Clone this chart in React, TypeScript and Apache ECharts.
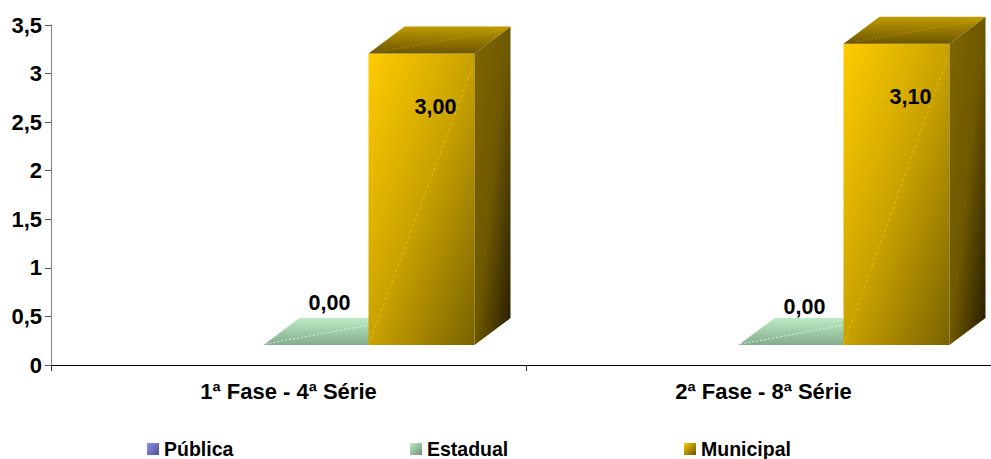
import React, { useEffect, useRef } from "react";
import * as echarts from "echarts";

const categories = ["1ª Fase - 4ª Série", "2ª Fase - 8ª Série"];
const publica: (number | null)[] = [null, null];
const estadual = [0, 0];
const municipal = [3.0, 3.1];
const yTicks = [0, 0.5, 1, 1.5, 2, 2.5, 3, 3.5];

const FONT = '"Liberation Sans", Arial, sans-serif';
const BAR_W = 106;
const DEPTH_X = 36;
const DEPTH_Y = 27;
const FLOOR = 20;

const lg = (x: number, y: number, x2: number, y2: number, stops: string[]) =>
  new echarts.graphic.LinearGradient(
    x,
    y,
    x2,
    y2,
    stops.map((color, i) => ({ offset: i / (stops.length - 1), color }))
  );

type Palette = { front: string[]; top: string[]; side: string[]; dash: string; topDash: string };

const GOLD: Palette = {
  front: ["#FFCC00", "#C9A200", "#7A6200"],
  top: ["#C09A00", "#6B5600"],
  side: ["#7F6600", "#6E5800", "#241C00"],
  dash: "rgba(255,204,0,0.6)",
  topDash: "rgba(220,180,0,0.45)",
};
const GREEN: Palette = {
  front: ["#B9E8C0", "#80A888"],
  top: ["#BDEBC4", "#84AD8C"],
  side: ["#80A888", "#40544A"],
  dash: "rgba(225,250,230,0.9)",
  topDash: "rgba(225,250,230,0.85)",
};

function makeRender(pal: Palette, slot: number, lx: number, ly: number) {
  return (params: any, api: any) => {
    const cat = api.value(0);
    const val = api.value(1);
    if (val == null || isNaN(val)) return { type: "group", children: [] };
    const base = api.coord([cat, 0]);
    const top = api.coord([cat, val]);
    const x = base[0] + slot;
    const b = base[1] - FLOOR;
    const t = top[1] - FLOOR;
    const r = x + BAR_W;
    const h = b - t;
    const children: any[] = [];
    if (h > 0) {
      children.push({
        type: "polygon",
        shape: { points: [[x, t], [r, t], [r, b], [x, b]] },
        style: { fill: lg(0, 0, 1, 1, pal.front) },
      });
      children.push({
        type: "polygon",
        shape: { points: [[r, t], [r + DEPTH_X, t - DEPTH_Y], [r + DEPTH_X, b - DEPTH_Y], [r, b]] },
        style: { fill: lg(0, 0, 1, 1, pal.side) },
      });
      children.push({
        type: "line",
        shape: { x1: x, y1: b, x2: r - 2, y2: t + 14 },
        style: { stroke: pal.dash, lineWidth: 1, lineDash: [3, 3] },
      });
      children.push({
        type: "line",
        shape: { x1: x + 3, y1: t + 188, x2: x + 72, y2: t + 1 },
        style: { stroke: "rgba(255,204,0,0.2)", lineWidth: 1, lineDash: [3, 3] },
      });
    }
    children.push({
      type: "polygon",
      shape: { points: [[x, t], [x + DEPTH_X, t - DEPTH_Y], [r + DEPTH_X, t - DEPTH_Y], [r, t]] },
      style: { fill: lg(0, 0, 0, 1, pal.top) },
    });
    children.push({
      type: "line",
      shape: h > 0
        ? { x1: x + 12, y1: t - 2, x2: r + 30, y2: t - 24 }
        : { x1: x + 2, y1: t - 1, x2: r, y2: t - 20 },
      style: { stroke: pal.topDash, lineWidth: 1, lineDash: [2, 2] },
    });
    children.push({
      type: "text",
      style: {
        x: x + lx,
        y: t + ly + (h > 0 ? 0 : cat * 4),
        text: val.toFixed(2).replace(".", ","),
        font: `bold 21.5px ${FONT}`,
        fill: "#000",
        align: "center",
        verticalAlign: "middle",
      },
    });
    return { type: "group", children };
  };
}

const legendBase = {
  orient: "horizontal" as const,
  top: 439,
  padding: 0,
  itemWidth: 12,
  itemHeight: 12,
  itemGap: 6,
  icon: "rect",
  textStyle: { fontFamily: FONT, fontWeight: "bold" as const, fontSize: 19.5, color: "#000" },
};

export default function App() {
  const ref = useRef<HTMLDivElement>(null);
  useEffect(() => {
    document.body.style.margin = "0";
    const chart = echarts.init(ref.current!, undefined, { renderer: "svg" });
    const seriesData = (vals: (number | null)[]) => vals.map((v, i) => [i, v]);
    chart.setOption({
      animation: false,
      backgroundColor: "#fff",
      grid: { left: 51, top: 25, width: 950, height: 340, containLabel: false, outerBoundsMode: "none" },
      xAxis: {
        type: "category",
        data: categories,
        axisLine: { lineStyle: { color: "#000", width: 1 } },
        axisTick: { show: true, length: 6, lineStyle: { color: "#333" } },
        axisLabel: { fontFamily: FONT, fontWeight: "bold", fontSize: 22, color: "#000", margin: 15 },
        splitLine: { show: false },
      },
      yAxis: {
        type: "value",
        min: 0,
        max: yTicks[yTicks.length - 1],
        interval: 0.5,
        axisLine: { show: true, lineStyle: { color: "#808080", width: 1 } },
        axisTick: { show: true, length: 6, lineStyle: { color: "#555" } },
        splitLine: { show: false },
        axisLabel: {
          fontFamily: FONT,
          fontWeight: "bold",
          fontSize: 22,
          color: "#000",
          margin: 9,
          formatter: (v: number) => String(v).replace(".", ","),
        },
      },
      legend: [
        { ...legendBase, left: 147, data: [{ name: "Pública", itemStyle: { color: lg(0, 0, 1, 1, ["#9090F0", "#505090"]) } }] },
        { ...legendBase, left: 410, data: [{ name: "Estadual", itemStyle: { color: lg(0, 0, 1, 1, ["#BDEBC4", "#709078"]) } }] },
        { ...legendBase, left: 684, data: [{ name: "Municipal", itemStyle: { color: lg(0, 0, 1, 1, ["#FFCC00", "#665200"]) } }] },
      ],
      series: [
        {
          type: "custom",
          name: "Pública",
          data: seriesData(publica),
          encode: { x: 0, y: 1 },
          renderItem: makeRender(GREEN, -131, 0, 0),
          z: 2,
        },
        {
          type: "custom",
          name: "Estadual",
          data: seriesData(estadual),
          encode: { x: 0, y: 1 },
          renderItem: makeRender(GREEN, -25, 66, -42),
          z: 3,
        },
        {
          type: "custom",
          name: "Municipal",
          data: seriesData(municipal),
          encode: { x: 0, y: 1 },
          renderItem: makeRender(GOLD, 80, 67, 53),
          z: 4,
        },
      ],
    });
    return () => chart.dispose();
  }, []);
  return <div ref={ref} style={{ width: 991, height: 459 }} />;
}
